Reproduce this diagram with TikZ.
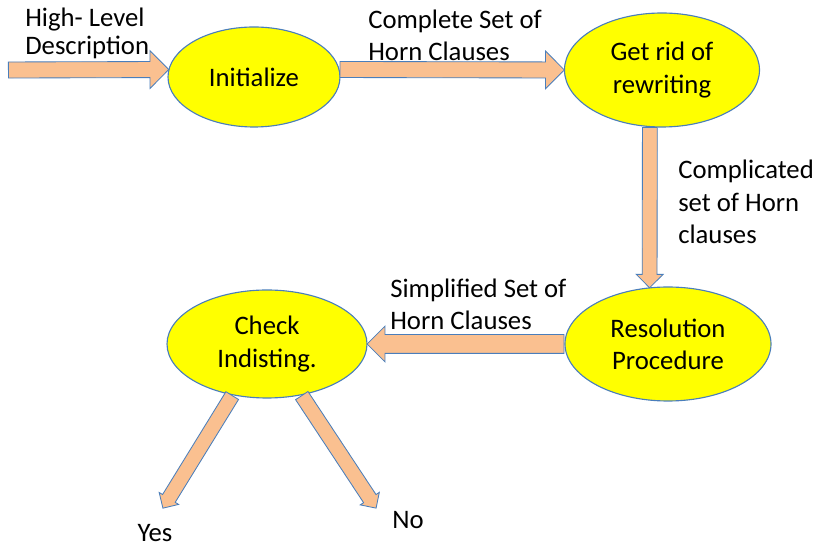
\documentclass[tikz,border=0pt]{standalone}
\usepackage{fontspec}
\setmainfont{Carlito}
\usetikzlibrary{shapes.geometric,shapes.arrows,calc}
\definecolor{Lemon}{HTML}{FFFF00}
\definecolor{Edge}{HTML}{4A7EBB}
\definecolor{Peach}{HTML}{FAC090}

% block arrow from one node to another
\newcommand{\fatflow}[3][]{%
  \path let \p1=($(#3)-(#2)$), \n1={veclen(\x1,\y1)}, \n2={atan2(\y1,\x1)} in
    (#2) node[fatarrow,#1,minimum height=\n1,rotate=\n2,anchor=tail] {};}

\begin{document}
\begin{tikzpicture}[x=1cm,y=1cm,
  stepbox/.style={ellipse,draw=Edge,fill=Lemon,line width=0.8pt,align=center,inner sep=0pt,font=\fontsize{19}{23}\selectfont},
  lbl/.style={align=left,inner sep=0pt,font=\fontsize{19}{23}\selectfont},
  fatarrow/.style={single arrow,draw=Edge,fill=Peach,line width=0.6pt,inner xsep=0pt,inner ysep=0.19cm,single arrow head extend=0.27cm,minimum width=0pt}]
  \useasboundingbox (0,0) rectangle (20.4,13.65);

  \node[stepbox,minimum width=4.3cm,minimum height=2.5cm] (init) at (6.35,11.725) {Initialize};
  \node[stepbox,minimum width=4.875cm,minimum height=2.85cm] (rid) at (16.55,11.9) {Get rid of\\rewriting};
  \node[stepbox,minimum width=5.15cm,minimum height=2.85cm] (res) at (16.7,5.05) {Resolution\\Procedure};
  \node[stepbox,minimum width=5.0cm,minimum height=2.7cm] (check) at (6.675,5.05) {Check\\Indisting.};

  \coordinate (in) at (0.2,11.9);
  \coordinate (yes) at (4.075,0.95);
  \coordinate (no) at (9.4,0.95);

  \fatflow{in}{init.175}
  \fatflow{init.5}{rid.west}
  \fatflow[inner ysep=0.175cm,single arrow head extend=0.15cm]{rid.258}{res.108}
  \fatflow[inner ysep=0.225cm,single arrow head extend=0.21cm]{res.west}{check.east}
  \fatflow[inner ysep=0.175cm,single arrow head extend=0.1cm]{check.236}{yes}
  \fatflow[inner ysep=0.175cm,single arrow head extend=0.1cm]{check.304}{no}

  \node[lbl,anchor=west,font=\fontsize{19}{20}\selectfont] (hld) at (0.625,12.81) {High- Level\\Description};
  \node[lbl,anchor=west] (csh) at (9.2,12.775) {Complete Set of\\Horn Clauses};
  \node[lbl,anchor=west] (cmp) at (16.95,8.6) {Complicated\\set of Horn\\clauses};
  \node[lbl,anchor=west] (ssh) at (9.75,6.05) {Simplified Set of\\Horn Clauses};
  \node[lbl] (yeslbl) at (3.875,0.33) {Yes};
  \node[lbl] (nolbl) at (10.2,0.65) {No};
\end{tikzpicture}
\end{document}
